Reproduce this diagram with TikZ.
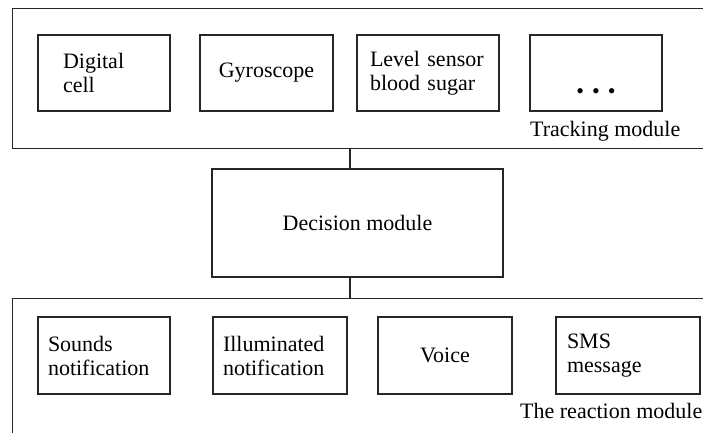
\documentclass[tikz,border=0pt]{standalone}
\usepackage{fontspec}
\setmainfont{Liberation Serif}
\newfontfamily\boxfont{Liberation Serif}
\usetikzlibrary{positioning}

\begin{document}
\begin{tikzpicture}[x=1pt, y=-1pt,
  every node/.style={font=\boxfont\fontsize{22}{24}\selectfont},
  module/.style={draw=black!85, line width=1.1pt, inner sep=0pt},
  box/.style={draw=black!85, line width=1.1pt, align=left, inner ysep=0pt},
  caption/.style={anchor=west, inner sep=0pt}]

\useasboundingbox (0,0) rectangle (703,432);

\node [module, minimum width=700pt, minimum height=140pt, anchor=north west] (track) at (12,8) {};
\node [module, minimum width=700pt, minimum height=150pt, anchor=north west] (reaction) at (12,298) {};

\node [box, minimum width=132pt, minimum height=76pt, inner xsep=25pt, text width=82pt] (digital) at (104,73) {Digital\\cell};
\node [box, minimum width=133pt, minimum height=76pt] (gyro) at (266.5,73) {Gyroscope};
\node [box, minimum width=142pt, minimum height=76pt, inner xsep=13pt, text width=116pt] (level) at (428,73) {Level sensor\\blood sugar};
\node [box, minimum width=132pt, minimum height=76pt] (more) at (596,73) {};
\node [inner sep=0pt] (dots) at ([yshift=-21pt]more.center) {\textbullet\hspace{8pt}\textbullet\hspace{8pt}\textbullet};
\node [caption] (tracklabel) at (530,131) {Tracking module};

\node [box, minimum width=291pt, minimum height=108pt] (decision) at (357.5,223) {Decision module};

\node [box, minimum width=132pt, minimum height=77pt, inner xsep=10pt, text width=112pt] (sounds) at (104,355.5) {Sounds\\notification};
\node [box, minimum width=134pt, minimum height=77pt, inner xsep=10pt, text width=114pt] (light) at (280,355.5) {Illuminated\\notification};
\node [box, minimum width=134pt, minimum height=77pt] (voice) at (445,355.5) {Voice};
\node [box, minimum width=144pt, minimum height=77pt, inner xsep=11pt, text width=122pt] (sms) at (628,355.5) {SMS\\message};
\node [caption] (reactionlabel) at (520,411) {The reaction module};

\coordinate (link) at (350,0);
\draw [draw=black!85, line width=1.1pt] (track.south -| link) -- (decision.north -| link);
\draw [draw=black!85, line width=1.1pt] (decision.south -| link) -- (reaction.north -| link);

\end{tikzpicture}
\end{document}
